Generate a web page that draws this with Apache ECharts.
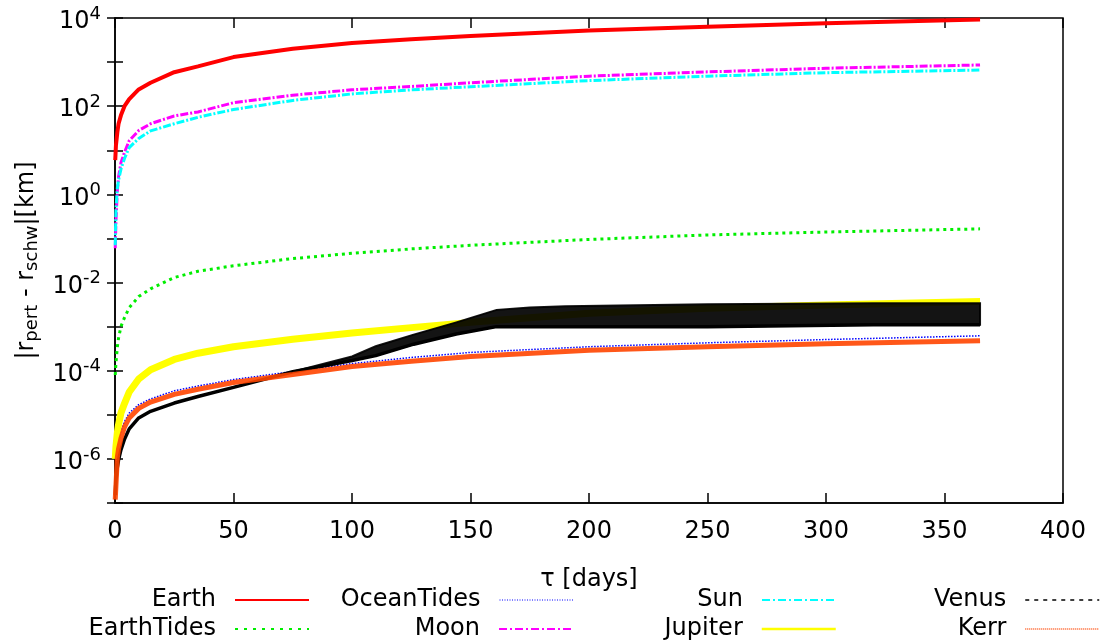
<!DOCTYPE html>
<html>
<head>
<meta charset="utf-8">
<title>|r_pert - r_schw| vs tau</title>
<script src="https://cdn.jsdelivr.net/npm/echarts@6/dist/echarts.min.js"></script>
<style>
  html, body { margin: 0; padding: 0; background: #fff; }
  #chart { width: 1109px; height: 643px; }
</style>
</head>
<body>
<div id="chart"></div>
<script>
// sample times [days] for the smooth curves
const tau = [0.1, 0.4, 1, 1.5, 2.5, 4, 6, 10, 15, 25, 35, 50, 75, 100, 125, 150, 200, 250, 300, 365]

// |r_pert - r_schw| in km
const earth      = [6, 13, 26, 40, 62, 100, 145, 240, 340, 590, 800, 1300, 2000, 2700, 3300, 3900, 5200, 6300, 7600, 9300]
const earthTides = [8e-5, 1.5e-4, 3.5e-4, 5.5e-4, 1.0e-3, 1.6e-3, 2.7e-3, 4.8e-3, 7.2e-3, 0.013, 0.018, 0.024, 0.035, 0.046, 0.058, 0.07, 0.095, 0.12, 0.14, 0.165]
const oceanTides = [1.5e-7, 4e-7, 1.4e-6, 2.3e-6, 4.1e-6, 7e-6, 1.1e-5, 1.7e-5, 2.3e-5, 3.5e-5, 4.5e-5, 6.3e-5, 9.6e-5, 1.45e-4, 2.0e-4, 2.6e-4, 3.5e-4, 4.3e-4, 5.1e-4, 6.2e-4]
const moon       = [0.06, 0.25, 1.2, 2.5, 5.2, 9, 16.5, 28, 40, 60, 74, 120, 178, 235, 280, 340, 480, 600, 725, 860]
const sun        = [0.07, 0.45, 1.4, 2.1, 3.7, 6.5, 11.5, 18.5, 27.5, 40, 56, 84, 135, 190, 235, 276, 380, 480, 575, 660]
const jupiter    = [1.0e-6, 1.9e-6, 4e-6, 6e-6, 1.1e-5, 1.8e-5, 3.3e-5, 6.5e-5, 1.05e-4, 1.8e-4, 2.5e-4, 3.5e-4, 5.2e-4, 7.2e-4, 9.5e-4, 1.25e-3, 2.0e-3, 2.6e-3, 3.1e-3, 3.7e-3]
const kerr       = [1.2e-7, 2.5e-7, 1.1e-6, 1.7e-6, 2.9e-6, 5.3e-6, 8.5e-6, 1.4e-5, 1.95e-5, 2.9e-5, 3.8e-5, 5.4e-5, 8.2e-5, 1.25e-4, 1.65e-4, 2.1e-4, 2.9e-4, 3.5e-4, 4.1e-4, 4.8e-4]

// Venus oscillates after ~100 days: lower and upper edge of the band
const venusTau  = [0.1, 0.4, 1, 1.5, 2.5, 4, 6, 10, 15, 25, 35, 50, 75, 100, 110, 126, 144, 161, 175, 190, 250, 320, 365]
const venusLow  = [1.5e-7, 3.3e-7, 6.5e-7, 9.5e-7, 1.6e-6, 2.8e-6, 4.8e-6, 8.5e-6, 1.2e-5, 1.85e-5, 2.6e-5, 4.2e-5, 9.5e-5, 1.7e-4, 2.2e-4, 4.0e-4, 6.8e-4, 1.0e-3, 1.0e-3, 1.0e-3, 1.0e-3, 1.1e-3, 1.1e-3]
const venusHigh = [1.5e-7, 3.3e-7, 6.5e-7, 9.5e-7, 1.6e-6, 2.8e-6, 4.8e-6, 8.5e-6, 1.2e-5, 1.85e-5, 2.6e-5, 4.2e-5, 9.5e-5, 2.1e-4, 3.6e-4, 6.6e-4, 1.25e-3, 2.4e-3, 2.7e-3, 2.9e-3, 3.2e-3, 3.4e-3, 3.4e-3]

const xTicks = [0, 400, 50]   // min, max, step
const yRange = [1e-7, 1e4]

const font = 'DejaVu Sans'

const pairs = (xs, ys) => xs.map((x, i) => [x, ys[i]])

// line looks in the plot and in the key
const looks = {
  Earth:      { color: '#ff0000', plot: { width: 4 },                          key: { width: 2 } },
  EarthTides: { color: '#00ee00', plot: { width: 3, type: [3, 4] },            key: { width: 2, type: [3, 6] } },
  OceanTides: { color: '#0000ff', plot: { width: 1.5, type: [1.5, 1.5] },      key: { width: 1, type: [1, 1.5] } },
  Moon:       { color: '#ff00ff', plot: { width: 3, type: [8, 2, 2, 2] },      key: { width: 2, type: [8, 3, 2, 3] } },
  Sun:        { color: '#00ffff', plot: { width: 3, type: [8, 2, 2, 2] },      key: { width: 2, type: [8, 3, 2, 3] } },
  Jupiter:    { color: '#ffff00', plot: { width: 7 },                          key: { width: 2.5 } },
  Venus:      { color: '#000000', plot: { width: 3.5 },                        key: { width: 1.5, type: [4, 5] } },
  Kerr:       { color: '#ff4500', plot: { width: 5, opacity: 0.9 },            key: { width: 1.5, type: [1, 1] } },
}

function lineSeries(name, data, z) {
  const lk = looks[name]
  return {
    name,
    type: 'line',
    data,
    z: z || 2,
    symbol: 'none',
    smooth: false,
    color: lk.color,
    lineStyle: Object.assign({ color: lk.color, cap: 'butt' }, lk.plot),
    emphasis: { disabled: true },
  }
}

function powLabel(v) {
  const e = Math.round(Math.log10(v))
  if (e % 2 !== 0) return ''
  return '10{sup|' + e + '}'
}

// gnuplot key: text right-aligned, sample on the right, 4 columns x 2 rows
const keyCols = [['Earth', 'EarthTides'], ['OceanTides', 'Moon'], ['Sun', 'Jupiter'], ['Venus', 'Kerr']]
const keyRight = [799, 535, 272, 9]
const keyTop = [588, 617]

const legends = []
keyCols.forEach((col, c) => {
  col.forEach((name, r) => {
    legends.push({
      data: [{
        name,
        lineStyle: Object.assign({ color: looks[name].color }, looks[name].key),
        itemStyle: { opacity: 0 },
      }],
      right: keyRight[c],
      top: keyTop[r],
      align: 'right',
      orient: 'horizontal',
      padding: 0,
      itemWidth: 74,
      itemHeight: 14,
      selectedMode: false,
      textStyle: { fontFamily: font, fontSize: 24, color: '#000', padding: [0, 14, 0, 0] },
    })
  })
})

// band of the Venus oscillation, drawn through the axis scales
function venusBand(params, api) {
  const idx = venusTau.map((t, i) => i).filter(i => venusHigh[i] > venusLow[i])
  idx.unshift(idx[0] - 1)
  const top = idx.map(i => api.coord([venusTau[i], venusHigh[i]]))
  const bottom = idx.map(i => api.coord([venusTau[i], venusLow[i]])).reverse()
  return {
    type: 'polygon',
    shape: { points: top.concat(bottom) },
    style: { fill: '#000', stroke: '#000', lineWidth: 2, opacity: 0.92 },
  }
}

const chart = echarts.init(document.getElementById('chart'), null, { renderer: 'canvas' })

const tickStyle = { lineStyle: { color: '#000', width: 1.5 } }

chart.setOption({
  animation: false,
  backgroundColor: '#fff',
  textStyle: { fontFamily: font },
  grid: { left: 115, right: 46, top: 18, bottom: 140, show: true, borderColor: '#000', borderWidth: 1.5, backgroundColor: 'transparent' },
  legend: legends,
  xAxis: [
    {
      type: 'value', position: 'bottom',
      min: xTicks[0], max: xTicks[1], interval: xTicks[2],
      axisLine: { show: true, lineStyle: { color: '#000', width: 1.5 } },
      axisTick: Object.assign({ inside: true, length: 10 }, tickStyle),
      axisLabel: { fontSize: 24, color: '#000', margin: 17, fontFamily: font },
      splitLine: { show: false },
      name: 'τ [days]', nameLocation: 'middle', nameGap: 65,
      nameTextStyle: { fontSize: 24, color: '#000', fontFamily: font },
    },
    {
      type: 'value', position: 'top',
      min: xTicks[0], max: xTicks[1], interval: xTicks[2],
      axisLine: { show: false },
      axisTick: Object.assign({ inside: true, length: 10 }, tickStyle),
      axisLabel: { show: false },
      splitLine: { show: false },
    },
  ],
  yAxis: [
    {
      type: 'log', logBase: 10, position: 'left',
      min: yRange[0], max: yRange[1], interval: 1,
      axisLine: { show: true, lineStyle: { color: '#000', width: 1.5 } },
      axisTick: Object.assign({ inside: true, length: 8 }, tickStyle),
      axisLabel: {
        fontSize: 24, color: '#000', margin: 14, fontFamily: font,
        padding: [8, 0, 0, 0],
        formatter: powLabel,
        rich: { sup: { fontSize: 18, fontFamily: font, color: '#000', padding: [0, 0, 16, 0] } },
      },
      splitLine: { show: false },
      name: '|r{sub|pert} - r{sub|schw}|[km]', nameLocation: 'middle', nameGap: 73, nameRotate: 90,
      nameTextStyle: {
        fontSize: 24, color: '#000', fontFamily: font,
        rich: { sub: { fontSize: 18, fontFamily: font, color: '#000', padding: [12, 0, 0, 0] } },
      },
    },
    {
      type: 'log', logBase: 10, position: 'right',
      min: yRange[0], max: yRange[1], interval: 1,
      axisLine: { show: false },
      axisTick: Object.assign({ inside: true, length: 8 }, tickStyle),
      axisLabel: { show: false },
      splitLine: { show: false },
    },
  ],
  series: [
    lineSeries('Earth', pairs(tau, earth)),
    lineSeries('EarthTides', pairs(tau, earthTides)),
    lineSeries('OceanTides', pairs(tau, oceanTides)),
    lineSeries('Moon', pairs(tau, moon)),
    lineSeries('Sun', pairs(tau, sun)),
    lineSeries('Jupiter', pairs(tau, jupiter)),
    lineSeries('Venus', pairs(venusTau, venusLow), 3),
    {
      type: 'custom',
      name: 'VenusBand',
      z: 3,
      renderItem: venusBand,
      data: [[venusTau[venusTau.length - 1], venusHigh[venusHigh.length - 1]]],
      silent: true,
    },
    lineSeries('Kerr', pairs(tau, kerr), 4),
  ],
})
</script>
</body>
</html>
